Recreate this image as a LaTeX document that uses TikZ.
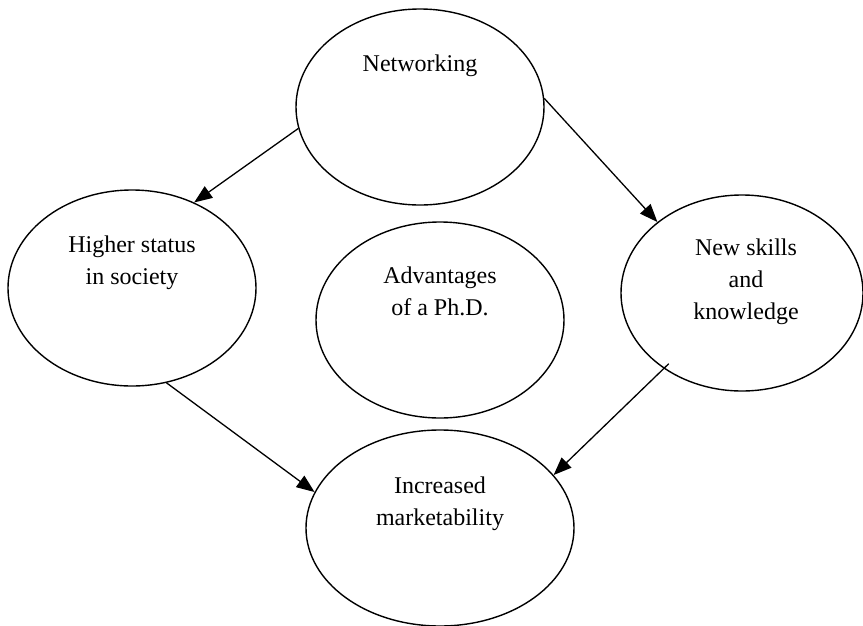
\documentclass[tikz,border=0pt]{standalone}
\usepackage{fontspec}
\setmainfont{Liberation Serif}
\usetikzlibrary{shapes.geometric,arrows.meta,calc}

\tikzset{
  bubble/.style={draw, ellipse, line width=1.4pt, minimum width=248pt,
    minimum height=196pt, inner sep=0pt},
  % base anchor sits on the last line of a caption
  caption/.style={align=center, inner sep=0pt, anchor=base,
    font=\fontsize{24}{32}\selectfont},
  link/.style={line width=1.3pt, -{Triangle[length=18pt,width=14pt]}}
}

\begin{document}
\begin{tikzpicture}[x=1pt, y=-1pt]
  \useasboundingbox (0,0) rectangle (863,625);

  % the five ellipses
  \node[bubble] (net) at (420,107) {};
  \node[bubble] (hs)  at (132,288) {};
  \node[bubble] (adv) at (440,320) {};
  \node[bubble, minimum width=242pt] (ns) at (742,293) {};
  \node[bubble, minimum width=268pt] (inc) at (440,528) {};

  % captions, first baseline about 36pt above each centre
  \node[caption] (netT) at ($(net.center)+(0,-36)$) {Networking};
  \node[caption] (hsT)  at ($(hs.center)+(0,-4)$)   {Higher status\\in society};
  \node[caption] (advT) at ($(adv.center)+(0,-5)$)  {Advantages\\of a Ph.D.};
  \node[caption] (nsT)  at ($(ns.center)+(4,26)$)   {New skills\\and\\knowledge};
  \node[caption] (incT) at ($(inc.center)+(0,-3)$)  {Increased\\marketability};

  % connectors
  \draw[link] (net.190) -- (hs.54);
  \draw[link] (net.4)   -- (ns.140);
  \draw[link] (hs.290)  -- (inc.164);
  \draw[link, shorten <=-7pt] (ns.224) -- (inc.25);
\end{tikzpicture}
\end{document}
